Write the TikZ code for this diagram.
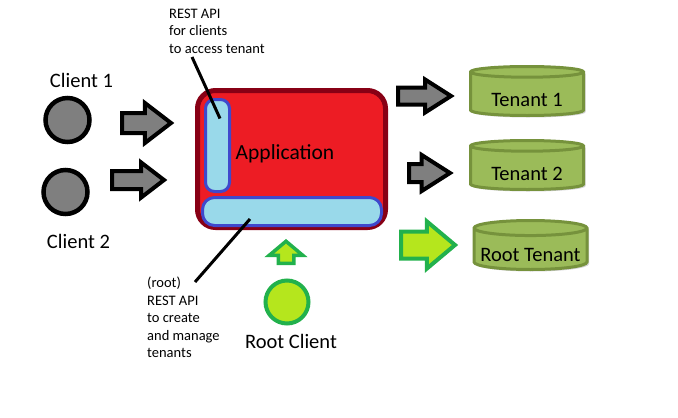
\documentclass[tikz,border=0pt]{standalone}
\usepackage{fontspec}
\setmainfont{Carlito}
\usepackage{tikz}
\usetikzlibrary{shapes.geometric,shapes.arrows,positioning,calc,shadows}

\definecolor{clientgray}{RGB}{127,127,127}
\definecolor{appred}{RGB}{237,28,36}
\definecolor{appdark}{RGB}{136,0,21}
\definecolor{apiblue}{RGB}{153,217,234}
\definecolor{apiedge}{RGB}{63,72,204}
\definecolor{rootlime}{RGB}{181,230,29}
\definecolor{rootgreen}{RGB}{34,177,76}
\definecolor{dbfill}{RGB}{155,187,89}
\definecolor{dbedge}{RGB}{118,146,60}

\newcommand{\bigtxt}{\fontsize{20.5}{24}\selectfont}
\newcommand{\smalltxt}{\fontsize{14.5}{17.5}\selectfont}

\begin{document}
\begin{tikzpicture}[x=1pt,y=-1pt,
  clientdot/.style={circle, draw=black, line width=4.5pt, fill=clientgray, minimum size=44pt, inner sep=0pt},
  rootdot/.style={circle, draw=rootgreen, line width=4pt, fill=rootlime, minimum size=43pt, inner sep=0pt},
  grayarrow/.style={single arrow, draw=black, line width=4pt, fill=clientgray, single arrow tip angle=75, anchor=tail},
  greenarrow/.style={single arrow, draw=rootgreen, line width=4pt, fill=rootlime, single arrow tip angle=80, anchor=tail},
  apibar/.style={draw=apiedge, line width=3pt, fill=apiblue, inner sep=0pt},
  tenantdb/.style={cylinder, shape border rotate=90, aspect=0.15, draw=dbedge, line width=3pt, fill=dbfill,
    minimum width=113pt, minimum height=49pt, inner sep=0pt, font=\bigtxt, text height=24pt, text depth=0pt,
    anchor=shape center,
    drop shadow={shadow xshift=2pt, shadow yshift=-2pt, fill=black, opacity=0.18}},
  pointer/.style={line width=3pt, black},
  lbl/.style={font=\bigtxt, inner sep=0pt, anchor=base}
]
\useasboundingbox (0,0) rectangle (678,418);

% Clients
\node (client1) [clientdot] at (67.5,120) {};
\node (client2) [clientdot] at (65.5,192) {};
\node (client1txt) [lbl] at (81.5,87) {Client 1};
\node (client2txt) [lbl] at (78.5,248) {Client 2};

% Arrows clients -> application
\node (c1arrow) [grayarrow, minimum height=49pt, inner sep=8pt, single arrow head extend=10pt] at (120,123) {};
\node (c2arrow) [grayarrow, minimum height=52pt, inner sep=7pt, single arrow head extend=8.5pt] at (110,180) {};

% Application
\node (app) [draw=appdark, line width=5pt, fill=appred, rounded corners=18pt,
  minimum width=188pt, minimum height=137pt] at (291.5,159) {};
\node (clientapi) [apibar, rounded corners=9pt, minimum width=24pt, minimum height=92pt] at (217.5,145.5) {};
\node (rootapi) [apibar, rounded corners=12pt, minimum width=179pt, minimum height=28pt] at (292,211.5) {};
\node (apptxt) [font=\fontsize{21.5}{25}\selectfont, inner sep=0pt, anchor=base] at (285,159.3) {Application};

% Notes on the two APIs
\node (clientnote) [font=\smalltxt, align=left, anchor=north west, inner sep=0pt] at (169,8.5)
  {REST API\\for clients\\to access tenant};
\node (rootnote) [font=\smalltxt, align=left, anchor=north west, inner sep=0pt] at (147,277)
  {(root)\\REST API\\to create\\and manage\\tenants};
\coordinate (p1) at (192,57);
\coordinate (p2) at (195,282);
\draw[pointer] (p1) -- ($(clientapi.north)+(2.5,20.5)$);
\draw[pointer] (p2) -- ($(rootapi.center)+(-42,7.5)$);

% Root client
\node (rootup) [greenarrow, shape border rotate=90, line width=3.5pt, single arrow tip angle=100,
  minimum height=22pt, inner sep=6pt, single arrow head extend=9pt] at (286,265) {};
\node (root) [rootdot] at (287,302) {};
\node (roottxt) [lbl] at (291,348) {Root Client};

% Arrows application -> tenants
\node (t1arrow) [grayarrow, single arrow tip angle=65, minimum height=53pt, inner sep=6.5pt, single arrow head extend=8pt] at (396,96) {};
\node (t2arrow) [grayarrow, single arrow tip angle=65, minimum height=41pt, inner sep=7pt, single arrow head extend=9pt] at (407,173) {};
\node (rootarrow) [greenarrow, minimum height=54pt, inner sep=11.5pt, single arrow head extend=10pt] at (399,245) {};

% Tenants
\node (tenant1) [tenantdb] at (527,91) {Tenant 1};
\node (tenant2) [tenantdb] at (527,165) {Tenant 2};
\node (roottenant) [tenantdb] at (530.5,245) {Root Tenant};

\end{tikzpicture}
\end{document}
